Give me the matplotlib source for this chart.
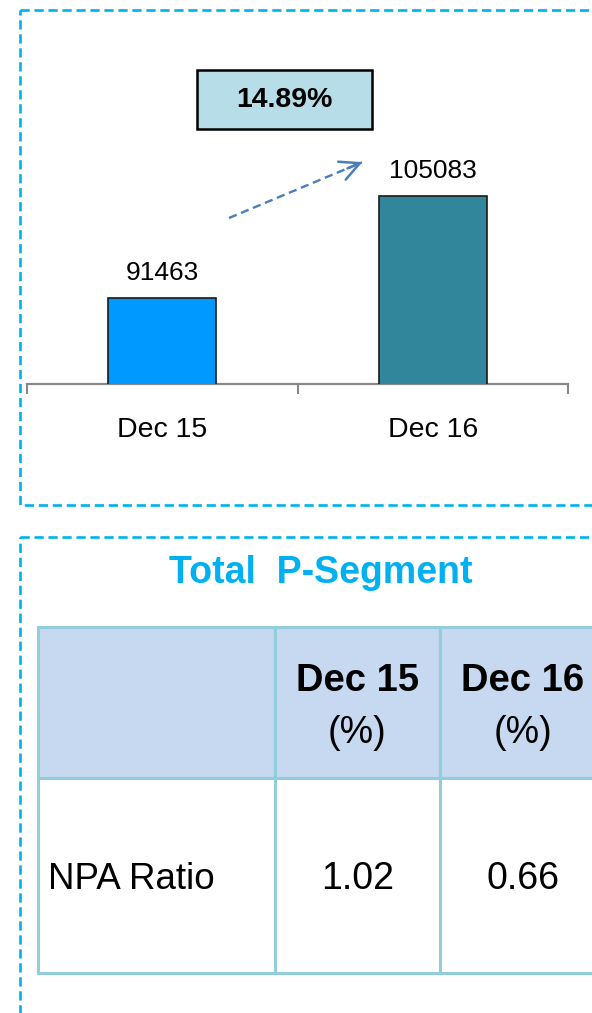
import matplotlib
matplotlib.use("Agg")
import matplotlib.pyplot as plt
from matplotlib.patches import Rectangle, FancyArrowPatch

plt.rcParams['font.family'] = ['Liberation Sans', 'DejaVu Sans']

# ---- data ----
periods = ["Dec 15", "Dec 16"]
values = [91463, 105083]
bar_colors = ["#0099FF", "#31869B"]
table_title = "Total  P-Segment"
table_cols = ["Dec 15", "Dec 16"]
table_unit = "(%)"
row_label = "NPA Ratio"
npa_values = [1.02, 0.66]

W, H = 592, 1013
fig = plt.figure(figsize=(W / 100, H / 100), dpi=100)

# overlay in pixel coordinates
ov = fig.add_axes([0, 0, 1, 1], zorder=0)
ov.set_xlim(0, W)
ov.set_ylim(H, 0)
ov.axis("off")

cyan = "#00B0F0"
# dashed panels
ov.add_patch(Rectangle((20, 10), 620, 495, fill=False, ec=cyan, lw=1.9,
                       ls=(0, (3.5, 1.8)), clip_on=True))
ov.add_patch(Rectangle((20, 537), 620, 520, fill=False, ec=cyan, lw=1.9,
                       ls=(0, (3.5, 1.8)), clip_on=True))

# ---- bar chart ----
def fx(px):
    return px / W

def fy(py):
    return 1 - py / H

ax_l, ax_r, ax_t, ax_b = 27, 568, 24, 384
ax = fig.add_axes([fx(ax_l), fy(ax_b), fx(ax_r - ax_l), (ax_b - ax_t) / H], zorder=2)
ax.patch.set_alpha(0)
x = list(range(len(periods)))
ax.bar(x, values, width=0.40, color=bar_colors, edgecolor="#1a1a1a", linewidth=1.2, zorder=3)
ax.set_xlim(-0.5, len(periods) - 0.5)
ax.set_ylim(80000, 128000)
for s in ["top", "left", "right"]:
    ax.spines[s].set_visible(False)
ax.spines["bottom"].set_color("#888888")
ax.spines["bottom"].set_linewidth(1.6)
ax.set_yticks([])
ax.set_xticks(x)
ax.set_xticklabels(periods, fontsize=20.5)
ax.tick_params(axis="x", which="major", length=0, pad=24)
ax.set_xticks([i - 0.5 for i in range(len(periods) + 1)], minor=True)
ax.tick_params(axis="x", which="minor", length=7, width=1.5, color="#888888")
for xi, v in zip(x, values):
    ax.annotate(f"{v}", (xi, v), xytext=(0, 13), textcoords="offset points",
                ha="center", va="baseline", fontsize=19)

# growth box + arrow
growth = (values[1] - values[0]) / values[0] * 100
ov.add_patch(Rectangle((197, 70), 175, 59, fc="#B7DEE8", ec="black", lw=1.8, zorder=3))
ov.text(284.5, 100, f"{growth:.2f}%", ha="center", va="center", fontsize=20.5,
        fontweight="bold", zorder=4)
arrow_col = "#4A7EBB"
tail, tip = (229, 218), (365, 161)
ov.plot([tail[0], tip[0] - 3], [tail[1], tip[1] + 1.3], color=arrow_col, lw=1.7,
        ls=(0, (3.5, 2)), zorder=4)
head = FancyArrowPatch((tip[0] - 20, tip[1] + 8.4), tip,
                       arrowstyle="->,head_length=14,head_width=7",
                       color=arrow_col, lw=1.8, mutation_scale=1, zorder=4)
head.set_linestyle("solid")
ov.add_patch(head)

# ---- table ----
ov.text(321, 573, table_title, ha="center", va="center", fontsize=27,
        fontweight="bold", color=cyan)

col_x = [38, 275, 440, 605]
row_y = [627, 778, 973]
border = "#92CDDC"
header_fill = "#C6D9F1"
for i in range(3):
    ov.add_patch(Rectangle((col_x[i], row_y[0]), col_x[i + 1] - col_x[i], row_y[1] - row_y[0],
                           fc=header_fill, ec=border, lw=2.2, zorder=2))
    ov.add_patch(Rectangle((col_x[i], row_y[1]), col_x[i + 1] - col_x[i], row_y[2] - row_y[1],
                           fc="white", ec=border, lw=2.2, zorder=2))

for i, (c, v) in enumerate(zip(table_cols, npa_values)):
    cx = (col_x[i + 1] + col_x[i + 2]) / 2
    ov.text(cx, 681, c, ha="center", va="center", fontsize=27.5, fontweight="bold", zorder=4)
    ov.text(cx, 733, table_unit, ha="center", va="center", fontsize=27, zorder=4)
    ov.text(cx, 879, f"{v:.2f}", ha="center", va="center", fontsize=27, zorder=4)
ov.text(48, 879, row_label, ha="left", va="center", fontsize=26.5, zorder=4)

fig.savefig("out.png", dpi=100)
